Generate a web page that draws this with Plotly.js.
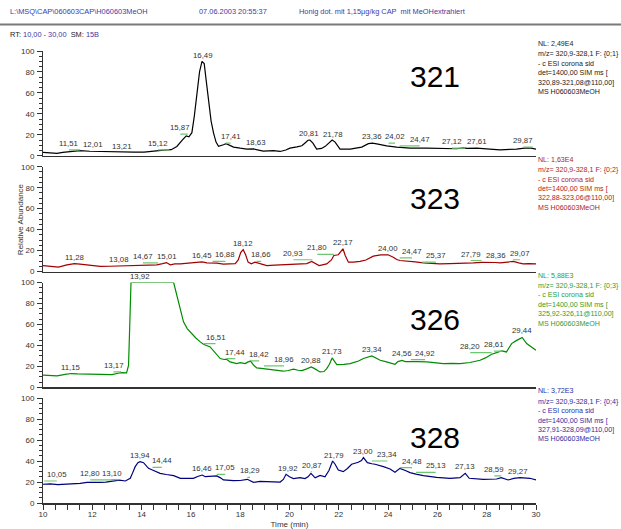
<!DOCTYPE html>
<html>
<head>
<meta charset="utf-8">
<script src="https://cdn.plot.ly/plotly-3.0.1.min.js"></script>
<style>
  html, body { margin: 0; padding: 0; background: #fff; }
  #chart { width: 621px; height: 529px; }
</style>
</head>
<body>
<div id="chart"></div>
<script>
// ---- SIM chromatograms, m/z 321 / 323 / 326 / 328 (relative abundance vs. time) ----

// m/z 321
const t321 = [10.0,10.3,10.57,10.8,11.2,11.5,11.9,12.3,12.7,13.0,13.4,13.7,14.1,14.5,14.9,15.2,15.43,15.65,15.81,15.92,16.04,16.14,16.24,16.35,16.45,16.54,16.62,16.71,16.82,16.92,17.02,17.12,17.22,17.32,17.43,17.55,17.73,18.0,18.27,18.54,18.75,18.94,19.35,19.62,19.85,20.02,20.3,20.5,20.62,20.75,20.83,20.95,21.1,21.3,21.45,21.6,21.73,21.85,21.95,22.05,22.46,22.93,23.2,23.36,23.54,23.94,24.35,24.89,25.57,26.24,26.78,27.05,27.2,27.59,28.0,28.54,29.21,29.62,29.8,30.0];
const i321 = [3.2,3.0,2.3,3.3,4.0,4.8,4.3,4.1,3.6,3.2,3.0,3.5,3.4,4.6,5.4,5.8,8.9,15,19,18,22,38,60,80,90,88,72,53,33,21.6,13,9,9.5,10.5,11.5,10,8.3,7.2,6.3,6.5,5.5,4.4,4.8,4.1,5.5,7.3,8.5,9.5,12,14.8,15,12,6.3,7.0,9,12.5,15,13,9,6.3,6.3,8.3,11.5,12,11.4,9.5,8.3,7.3,7.3,6.7,6.7,7.6,7.0,7.3,6.3,5.7,6.3,7.6,7.2,6.3];
const lab321 = ['11,51','12,01','13,21','15,12','15,87','16,49','17,41','18,63','20,81','21,78','23,36','24,02','24,47','27,12','27,61','29,87'];
// flagged peaks: [label, time where the label sits, flag level]
const flag321 = [['11,51',11.05,5.7],['15,12',14.66,5.7],['15,87',15.57,20.6],['17,41',17.61,12],['24,02',24.28,12],['24,47',25.28,9.5],['27,12',26.59,7.3],['29,87',29.48,8.3]];

// m/z 323
const t323 = [10.0,10.3,10.63,10.97,11.28,11.5,11.92,12.32,12.7,13.08,13.5,13.9,14.22,14.62,14.85,15.01,15.16,15.35,15.57,15.97,16.2,16.45,16.65,16.88,17.05,17.32,17.55,17.8,17.92,18.02,18.12,18.22,18.32,18.45,18.6,18.8,19.08,19.4,19.75,20.1,20.43,20.7,20.9,21.05,21.2,21.51,21.7,21.8,21.98,22.08,22.17,22.26,22.39,22.6,22.86,23.1,23.4,23.7,24.0,24.21,24.35,24.48,24.7,24.89,25.1,25.43,25.8,26.1,26.5,26.78,27.1,27.46,27.79,28.0,28.36,28.54,28.8,29.08,29.3,29.48,29.7,30.0];
const i323 = [5.7,5.2,4.2,6.4,7.5,7.0,5.7,4.8,5.0,5.3,5.5,6.0,6.4,6.4,7.5,8.5,6.4,7.2,7.3,8.3,8.7,9.2,8.3,8.3,8.0,7.0,7.5,7.5,11,18,20.8,16,9,7.3,8.9,7.3,5.7,6.0,6.4,6.7,7.0,7.5,9.6,7.5,5.7,7.3,11,15.3,16,19,21.7,15.3,8.9,9.0,9.6,11,14.7,15.8,16,13.7,11.5,10.5,10.2,9.6,9.2,8.3,7.6,7.3,7.5,7.6,8,8.3,8.8,8.9,8.6,8.3,8.8,9.6,8.2,7.3,7.5,7.3];
const lab323 = ['11,28','13,08','14,67','15,01','16,45','16,88','18,12','18,66','20,93','21,80','22,17','24,00','24,47','25,37','27,79','28,36','29,07'];
const flag323 = [['14,67',14.05,8.3],['16,88',17.4,9.6],['18,66',18.85,9.6],['20,93',20.16,11.2],['21,80',21.13,16.3],['24,47',24.97,13.1],['25,37',25.94,8.9],['27,79',27.35,10.5],['29,07',29.35,11.2]];

// m/z 326
const t326 = [10.0,10.3,10.57,10.9,11.15,11.4,11.7,11.92,12.25,12.58,12.8,13.0,13.17,13.39,13.47,13.52,13.57,15.3,15.4,15.5,15.6,15.7,15.85,16.03,16.2,16.38,16.51,16.78,17.0,17.19,17.35,17.44,17.59,17.75,17.86,18.0,18.2,18.3,18.42,18.55,18.67,18.85,19.08,19.4,19.75,19.95,20.16,20.35,20.5,20.7,20.88,21.0,21.24,21.4,21.51,21.62,21.73,21.82,21.92,22.2,22.46,22.8,23.0,23.34,23.5,23.68,23.9,24.08,24.28,24.4,24.56,24.7,24.92,25.2,25.57,25.9,26.24,26.6,26.92,27.32,27.73,27.95,28.2,28.4,28.61,28.8,29.01,29.2,29.44,29.62,29.83,30.0];
const i326 = [11.5,11.2,10.9,12.3,13.1,12.8,12.6,12.4,11.8,11.5,12.0,13.1,13.9,13.7,20.9,60,100,100,90,81.5,70,62.4,56,51.3,47,43.3,41,38.5,32,27.4,26.5,26.8,24.2,23.5,22.6,23.5,22.6,24,25,21,18.5,18,17.2,16.2,15.3,16.0,17.2,16.2,15.9,17.5,19.4,18,14.6,15,17.8,22,28,25,21.6,21.8,22.6,25,27.4,29.9,28,25.8,24.5,23.6,22,24.5,25.6,24.5,24.8,24.5,24.2,23.5,22.6,22.8,22.6,23.6,25.8,28,31.5,33,34.8,33.7,41.7,44.5,47.5,41.7,38.5,35.3];
const lab326 = ['11,15','13,17','13,92','16,51','17,44','18,42','18,96','20,88','21,73','23,34','24,56','24,92','28,20','28,61','29,44'];
const flag326 = [['13,17',12.86,14.6],['16,51',17.0,41.7],['17,44',17.8,27.4],['18,42',18.77,25.1],['18,96',19.78,20.4],['24,92',25.5,26.4],['28,20',27.33,33.1],['28,61',28.29,34.5]];

// m/z 328
const t328 = [10.0,10.3,10.6,10.97,11.25,11.51,11.78,12.05,12.32,12.55,12.8,13.0,13.1,13.34,13.54,13.64,13.74,13.85,13.94,14.08,14.18,14.28,14.44,14.6,14.75,15.0,15.3,15.57,15.85,16.1,16.3,16.46,16.58,16.8,17.05,17.2,17.32,17.73,18.0,18.29,18.4,18.54,18.8,19.08,19.35,19.62,19.75,19.86,20.0,20.16,20.43,20.63,20.75,20.87,21.04,21.24,21.44,21.6,21.75,21.85,21.98,22.18,22.35,22.52,22.79,22.92,23.0,23.16,23.34,23.47,23.81,24.08,24.28,24.48,24.7,24.89,25.13,25.43,25.97,26.51,26.92,27.13,27.29,27.6,27.86,28.4,28.59,28.87,29.1,29.35,29.55,29.75,30.0];
const i328 = [17.9,18.3,17.6,17.9,18.0,18.8,19.7,19.5,19.7,20.0,20.6,21.3,21.8,21.0,23.6,29,34.7,38.5,39.4,38.5,35.5,33.1,31.5,29.5,28.3,27.2,26.1,23.6,23.8,23.6,25.5,26.7,25.1,25.3,25.8,24,22,21.3,21.5,22.6,21.3,19.7,20.6,20.4,20.2,20.0,22.5,27.4,25,23.3,24.2,23.3,25,28.3,24.0,26.4,25,31,40.1,37,31.5,29.9,33,37,38.9,40.5,43.3,38.5,37.5,37,34.7,32.5,29.3,33.1,31,29,27.5,26.1,24.5,23.6,24.2,28.3,23.6,23.0,22.6,22.9,24.2,22,23.5,24.2,24.0,23.6,22];
const lab328 = ['10,05','12,80','13,10','13,94','14,44','16,46','17,05','18,29','19,92','20,87','21,79','23,00','23,34','24,48','25,13','27,13','28,59','29,27'];
const flag328 = [['10,05',10.56,21],['12,80',11.92,22],['13,10',12.78,22.3],['14,44',14.82,34.1],['17,05',17.39,27.4],['18,29',18.4,24.5],['20,87',20.9,29.9],['23,34',23.97,40.1],['24,48',24.97,33.7],['25,13',25.93,29.3],['28,59',28.31,25.8]];

// Scan header text for each trace
const massLabels = ['321','323','326','328'];
const normLevels = ['2,49E4','1,63E4','5,88E3','3,72E3'];
const filterIds = ['{0;1}','{0;2}','{0;3}','{0;4}'];
const simWindows = ['320,89-321,08@110,00]','322,88-323,06@110,00]','325,92-326,11@110,00]','327,91-328,09@110,00]'];

// ---- drawing ----
const FONT = 'Arial, "Liberation Sans", Helvetica, sans-serif';
const W = 621, H = 529;
const M = { l: 43, r: 85, t: 51, b: 26 };
const PW = W - M.l - M.r, PH = H - M.t - M.b;
const px2x = px => (px - M.l) / PW;
const py2y = py => (H - M.b - py) / PH;

const panelH = 104.75, gap = 11;
const domains = [];
for (let k = 0; k < 4; k++) {
  const bottom = (3 - k) * (panelH + gap);
  domains.push([bottom / PH, (bottom + panelH) / PH]);
}

const series = [
  { t: t321, v: i321, labels: lab321, flags: flag321, line: '#000000', text: '#222222' },
  { t: t323, v: i323, labels: lab323, flags: flag323, line: '#a00000', text: '#b02424' },
  { t: t326, v: i326, labels: lab326, flags: flag326, line: '#008c00', text: '#2f9e2f' },
  { t: t328, v: i328, labels: lab328, flags: flag328, line: '#00007f', text: '#2e2ea6' }
];
// vertical position (px) of the large mass label in each panel
const bigLabelY = [76.7, 198, 319, 437];

function interp(ts, vs, x) {
  if (x <= ts[0]) return vs[0];
  for (let i = 1; i < ts.length; i++) {
    if (x <= ts[i]) {
      const f = (x - ts[i - 1]) / (ts[i] - ts[i - 1]);
      return vs[i - 1] + f * (vs[i] - vs[i - 1]);
    }
  }
  return vs[vs.length - 1];
}
const rt = s => parseFloat(s.replace(',', '.'));

const traces = [];
const annotations = [];
const layout = {
  width: W, height: H,
  margin: M,
  paper_bgcolor: '#ffffff', plot_bgcolor: '#ffffff',
  showlegend: false,
  font: { family: FONT, size: 8, color: '#333333' },
  shapes: [{
    type: 'line', xref: 'paper', yref: 'paper',
    x0: px2x(0), x1: px2x(W), y0: py2y(24.5), y1: py2y(24.5),
    line: { color: '#7a7a7a', width: 2 }
  }]
};

series.forEach((s, k) => {
  const n = k + 1;
  const xs = n === 1 ? 'x' : 'x' + n;
  const ys = n === 1 ? 'y' : 'y' + n;
  const xKey = n === 1 ? 'xaxis' : 'xaxis' + n;
  const yKey = n === 1 ? 'yaxis' : 'yaxis' + n;
  const last = n === 4;

  // chromatogram trace
  traces.push({
    type: 'scatter', mode: 'lines', x: s.t, y: s.v, xaxis: xs, yaxis: ys,
    line: { color: s.line, width: 1.2 }, hoverinfo: 'skip'
  });

  // green flag lines from each flagged peak to its label
  const flagOf = {};
  const gx = [], gy = [];
  s.flags.forEach(f => {
    flagOf[f[0]] = f;
    gx.push(rt(f[0]), f[1], null); gy.push(f[2], f[2], null);
  });
  traces.push({
    type: 'scatter', mode: 'lines', x: gx, y: gy, xaxis: xs, yaxis: ys,
    line: { color: '#6cc86c', width: 1.2 }, hoverinfo: 'skip', connectgaps: false
  });

  layout[xKey] = {
    domain: [0, 1], anchor: ys, range: [10, 30],
    showgrid: false, zeroline: false,
    showline: true, linecolor: '#333333', linewidth: 1.5,
    ticks: last ? 'outside' : '', ticklen: 5, tickwidth: 1, tickcolor: '#333333',
    tick0: 10, dtick: 2, showticklabels: last, ticklabelstandoff: -2,
    tickfont: { family: FONT, size: 8, color: '#333333' },
    minor: last ? { dtick: 0.5, ticks: 'outside', ticklen: 5, tickwidth: 1, tickcolor: '#333333' } : undefined,
    title: last ? { text: 'Time (min)', font: { family: FONT, size: 8, color: '#333333' }, standoff: 4 } : undefined
  };
  if (n > 1) layout[xKey].matches = 'x';

  layout[yKey] = {
    domain: domains[k], anchor: xs, range: [0, 100],
    showgrid: false, zeroline: false,
    showline: true, linecolor: '#333333', linewidth: 1,
    ticks: 'outside', ticklen: 5, tickwidth: 1, tickcolor: '#333333',
    tickvals: [0, 20, 40, 60, 80, 100], ticklabelstandoff: 1,
    tickfont: { family: FONT, size: 8, color: '#333333' },
    minor: { dtick: 5, ticks: 'outside', ticklen: 3, tickwidth: 1, tickcolor: '#333333' }
  };

  // retention-time labels: on the flag when flagged, otherwise at the apex
  s.labels.forEach(lb => {
    const tt = rt(lb);
    const f = flagOf[lb];
    const xx = f ? f[1] : tt;
    const yy = f ? Math.max(f[2], interp(s.t, s.v, f[1])) : interp(s.t, s.v, tt);
    annotations.push({
      xref: xs, yref: ys, x: xx, y: yy, text: lb, showarrow: false,
      xanchor: 'center', yanchor: 'bottom', yshift: 0,
      font: { family: FONT, size: 7.8, color: '#333333' }
    });
  });

  // scan header block at the right
  const topPx = H - M.b - domains[k][1] * PH;
  const lines = ['NL: ' + normLevels[k], 'm/z= 320,9-328,1 F: ' + filterIds[k], '- c ESI corona sid',
                 'det=1400,00 SIM ms [', simWindows[k], 'MS H060603MeOH'];
  lines.forEach((ln, j) => {
    const py = j === 0 ? topPx - 7 : topPx + 3.5 + 9.4 * (j - 1);
    annotations.push({
      xref: 'paper', yref: 'paper', x: px2x(535.5), y: py2y(py), text: ln, showarrow: false,
      xanchor: 'left', yanchor: 'middle',
      font: { family: FONT, size: 7.1, color: s.text }
    });
  });

  // large mass label
  annotations.push({
    xref: 'paper', yref: 'paper', x: px2x(435), y: py2y(bigLabelY[k]), text: massLabels[k],
    showarrow: false, xanchor: 'center', yanchor: 'middle',
    font: { family: FONT, size: 30, color: '#000000' }
  });
});

// y-axis title shared by all panels
annotations.push({
  xref: 'paper', yref: 'paper', x: px2x(20), y: (domains[1][0] + domains[1][1]) / 2,
  text: 'Relative Abundance', textangle: -90, showarrow: false,
  xanchor: 'center', yanchor: 'middle',
  font: { family: FONT, size: 8, color: '#333333' }
});

// file / run header
const hdrBlue = '#3a3aa8';
annotations.push(
  { xref: 'paper', yref: 'paper', x: px2x(8), y: py2y(12), text: 'L:\\MSQ\\CAP\\060603CAP\\H060603MeOH',
    showarrow: false, xanchor: 'left', yanchor: 'middle', font: { family: FONT, size: 7.4, color: hdrBlue } },
  { xref: 'paper', yref: 'paper', x: px2x(197), y: py2y(12), text: '07.06.2003 20:55:37',
    showarrow: false, xanchor: 'left', yanchor: 'middle', font: { family: FONT, size: 7.4, color: hdrBlue } },
  { xref: 'paper', yref: 'paper', x: px2x(297), y: py2y(12), text: 'Honig dot. mit 1,15µg/kg CAP&nbsp; mit MeOHextrahiert',
    showarrow: false, xanchor: 'left', yanchor: 'middle', font: { family: FONT, size: 7.4, color: hdrBlue } },
  { xref: 'paper', yref: 'paper', x: px2x(8), y: py2y(34),
    text: 'RT: <span style="color:' + hdrBlue + '">10,00 - 30,00</span>&nbsp; SM: <span style="color:' + hdrBlue + '">15B</span>',
    showarrow: false, xanchor: 'left', yanchor: 'middle', font: { family: FONT, size: 7.4, color: '#222222' } }
);

layout.annotations = annotations;

Plotly.newPlot('chart', traces, layout, { displayModeBar: false, staticPlot: true });
</script>
</body>
</html>
